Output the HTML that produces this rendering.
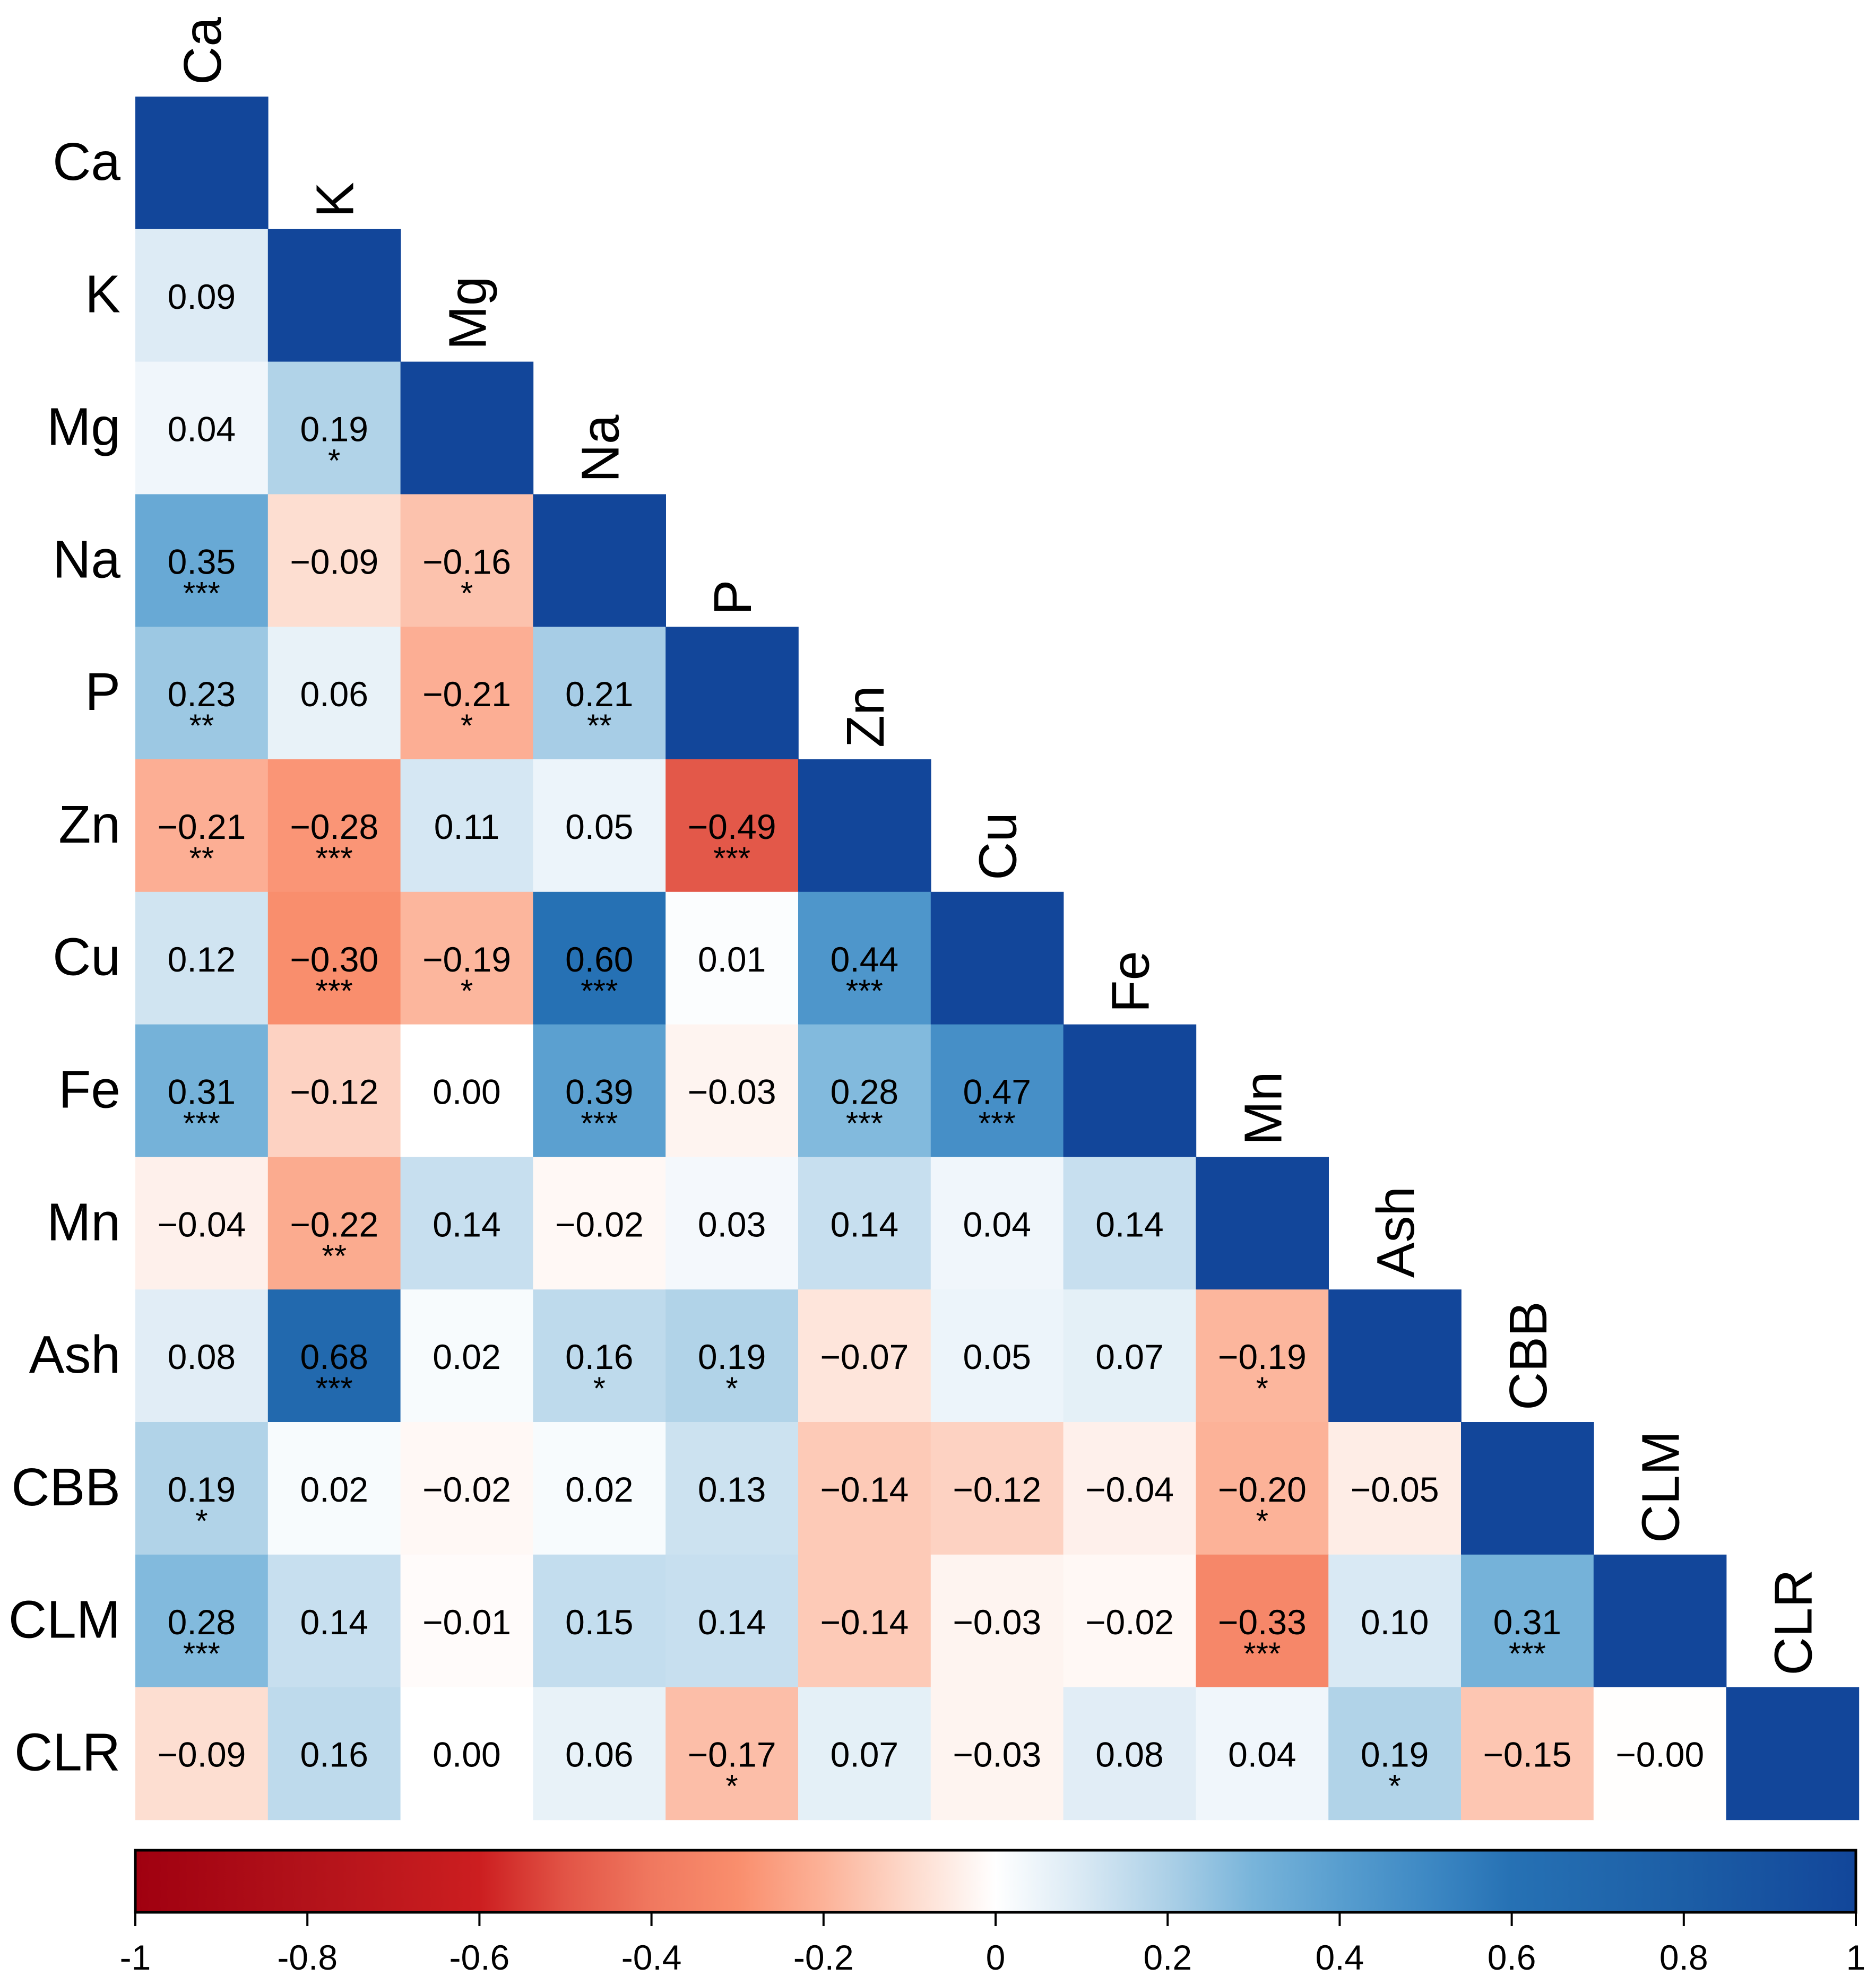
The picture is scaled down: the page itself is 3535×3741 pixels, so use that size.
<!DOCTYPE html>
<html><head><meta charset="utf-8"><style>
html,body{margin:0;padding:0;background:#fff;}
svg{display:block;font-family:"Liberation Sans",Arial,sans-serif;}
</style></head><body>
<svg id="chart" width="3535" height="3741" viewBox="0 0 3535 3741" xmlns="http://www.w3.org/2000/svg">
<g id="cells"></g>
<g id="labels"></g>
<g id="cbar"></g>
</svg>
<script>
const variables = ["Ca","K","Mg","Na","P","Zn","Cu","Fe","Mn","Ash","CBB","CLM","CLR"];
const corrRows = [
  [],
  [0.09],
  [0.04,0.19],
  [0.35,-0.09,-0.16],
  [0.23,0.06,-0.21,0.21],
  [-0.21,-0.28,0.11,0.05,-0.49],
  [0.12,-0.30,-0.19,0.60,0.01,0.44],
  [0.31,-0.12,0.00,0.39,-0.03,0.28,0.47],
  [-0.04,-0.22,0.14,-0.02,0.03,0.14,0.04,0.14],
  [0.08,0.68,0.02,0.16,0.19,-0.07,0.05,0.07,-0.19],
  [0.19,0.02,-0.02,0.02,0.13,-0.14,-0.12,-0.04,-0.20,-0.05],
  [0.28,0.14,-0.01,0.15,0.14,-0.14,-0.03,-0.02,-0.33,0.10,0.31],
  [-0.09,0.16,0.00,0.06,-0.17,0.07,-0.03,0.08,0.04,0.19,-0.15,-0.004]
];
const sigRows = [
  [],
  [""],
  ["","*"],
  ["***","","*"],
  ["**","","*","**"],
  ["**","***","","","***"],
  ["","***","*","***","","***"],
  ["***","","","***","","***","***"],
  ["","**","","","","","",""],
  ["","***","","*","*","","","","*"],
  ["*","","","","","","","","*",""],
  ["***","","","","","","","","***","","***"],
  ["","","","","*","","","","","*","",""]
];
const tickValues = [-1,-0.8,-0.6,-0.4,-0.2,0,0.2,0.4,0.6,0.8,1];
const tickLabels = ["-1","-0.8","-0.6","-0.4","-0.2","0","0.2","0.4","0.6","0.8","1"];

const NS="http://www.w3.org/2000/svg";
const X0=255, Y0=182, CELL=249.8;
const CB={x0:255,x1:3497,y0:3487,y1:3604};
const stops=[[-1,[160,0,16]],[-0.8,[178,18,26]],[-0.6,[204,30,32]],[-0.5,[226,84,70]],[-0.4,[240,120,95]],[-0.3,[249,142,109]],[-0.2,[252,178,152]],[-0.1,[253,218,204]],[0,[255,255,255]],[0.1,[217,233,244]],[0.2,[172,208,231]],[0.3,[120,180,218]],[0.4,[88,158,207]],[0.5,[62,137,196]],[0.6,[38,113,180]],[0.8,[28,94,166]],[1,[18,70,154]]];
function color(v){
  v=Math.max(-1,Math.min(1,v));
  for(let i=0;i<stops.length-1;i++){
    const a=stops[i],b=stops[i+1];
    if(v<=b[0]){const t=(v-a[0])/(b[0]-a[0]);
      const c=a[1].map((x,k)=>Math.round(x+(b[1][k]-x)*t));
      return `rgb(${c[0]},${c[1]},${c[2]})`;}
  }
  return "rgb(18,70,154)";
}
const xPos=i=>X0+i*CELL, yPos=i=>Y0+i*CELL;
const cbX=v=>CB.x0+(v+1)/2*(CB.x1-CB.x0);
function mk(tag,attrs,parent){const e=document.createElementNS(NS,tag);for(const k in attrs)e.setAttribute(k,attrs[k]);parent.appendChild(e);return e;}
const cells=document.getElementById('cells'), labels=document.getElementById('labels'), cbar=document.getElementById('cbar');
const fmt=v=>{let s=v.toFixed(2);return s.replace('-','\u2212');};

variables.forEach((name,i)=>{
  for(let j=0;j<=i;j++){
    const v = i===j?1:corrRows[i][j];
    const r=mk('rect',{x:xPos(j),y:yPos(i),width:CELL+0.8,height:CELL+0.8,fill:color(v)},cells);
    
    
    if(i!==j){
      const t=mk('text',{x:xPos(j)+CELL/2,y:yPos(i)+150,'text-anchor':'middle','font-size':66,fill:'#000'},cells);
      t.textContent=fmt(v);
      
      
      const s=sigRows[i][j];
      if(s){
        const st=mk('text',{x:xPos(j)+CELL/2,y:yPos(i)+207,'text-anchor':'middle','font-size':60,fill:'#000'},cells);
        st.textContent=s;
        
        
      }
    }
  }
  const rl=mk('text',{x:X0-28,y:yPos(i)+CELL/2+32,'text-anchor':'end','font-size':100,fill:'#000'},labels);
  rl.textContent=name;
  
  
  const cx=xPos(i)+CELL/2+36, cy=yPos(i)-22;
  const cl=mk('text',{x:cx,y:cy,'text-anchor':'start','font-size':100,fill:'#000',transform:`rotate(-90 ${cx} ${cy})`},labels);
  cl.textContent=name;
  
  
});

const defs=mk('defs',{},cbar);
const grad=mk('linearGradient',{id:'cbg',x1:0,x2:1,y1:0,y2:0},defs);
stops.forEach(s=>{mk('stop',{offset:((s[0]+1)/2*100)+'%','stop-color':color(s[0])},grad);});
const bar=mk('rect',{x:CB.x0,y:CB.y0,width:CB.x1-CB.x0,height:CB.y1-CB.y0,fill:'url(#cbg)',stroke:'#000','stroke-width':5},cbar);


tickValues.forEach((v,k)=>{
  const x=cbX(v);
  const tl=mk('line',{x1:x,x2:x,y1:CB.y1,y2:CB.y1+26,stroke:'#000','stroke-width':4},cbar);
  
  
  const tt=mk('text',{x:x,y:3712,'text-anchor':'middle','font-size':66,fill:'#000'},cbar);
  tt.textContent=tickLabels[k];
  
  
});
</script>
</body></html>
